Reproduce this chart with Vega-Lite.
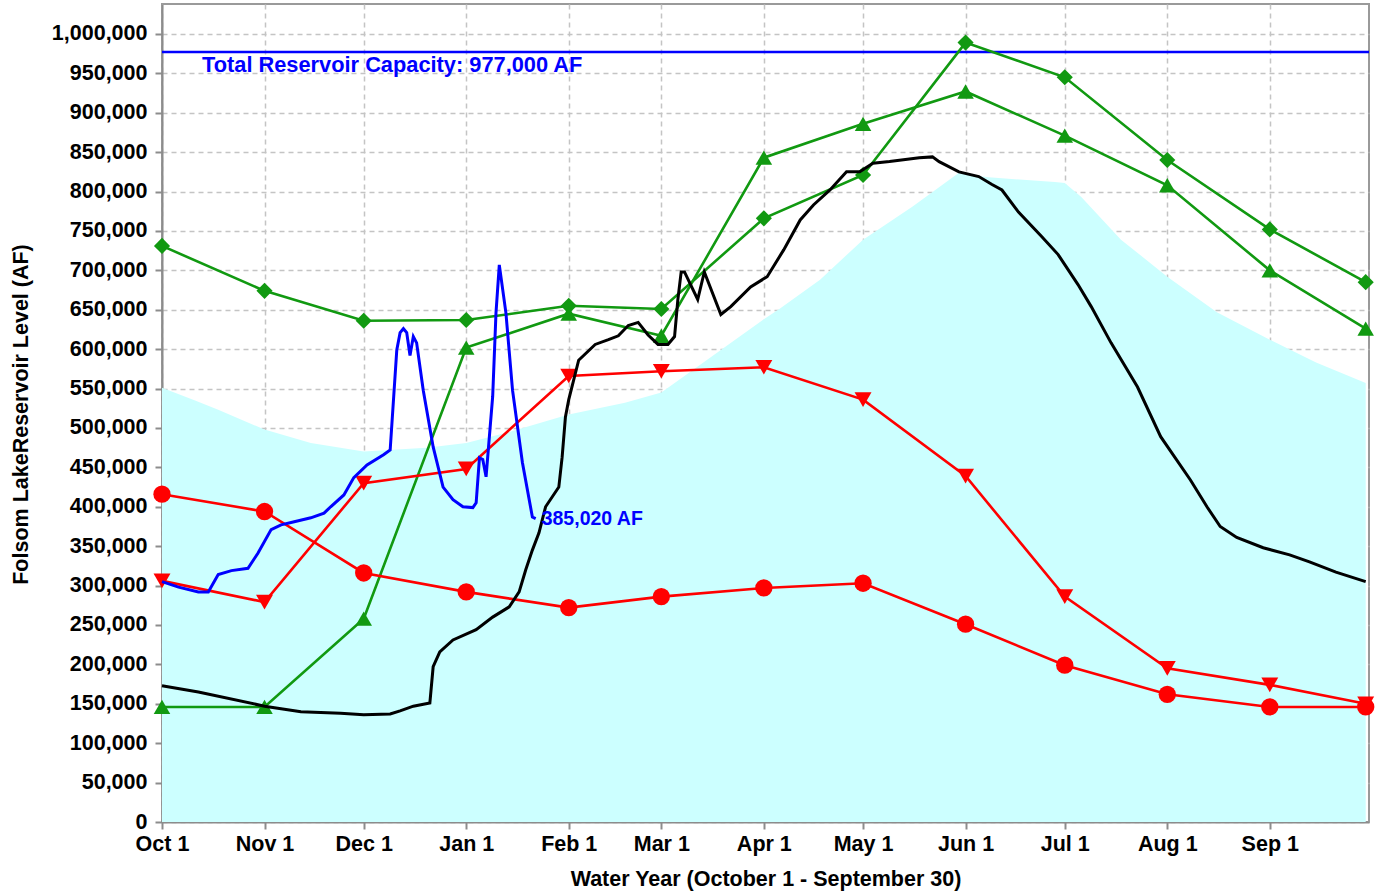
{
  "$schema": "https://vega.github.io/schema/vega-lite/v6.json",
  "width": 1207,
  "height": 818,
  "autosize": {"type": "none"},
  "padding": {"left": 162, "top": 4, "right": 10, "bottom": 71},
  "background": "white",
  "config": {
    "font": "Liberation Sans",
    "view": {"stroke": "#9a9a9a", "strokeWidth": 2},
    "axis": {
      "labelFont": "Liberation Sans",
      "labelFontSize": 21.5,
      "labelFontWeight": "bold",
      "labelColor": "#000000",
      "titleFont": "Liberation Sans",
      "titleFontSize": 21.5,
      "titleFontWeight": "bold",
      "titleColor": "#000000",
      "grid": true,
      "gridColor": "#c4c4c4",
      "gridDash": [5, 4],
      "gridWidth": 1.5,
      "domainColor": "#8c8c8c",
      "domainWidth": 2,
      "tickColor": "#8c8c8c",
      "tickWidth": 2,
      "tickSize": 7,
      "labelFlush": false,
      "labelOverlap": false
    }
  },
  "datasets": {
    "flood": [
      {"day": 0, "value": 551000}, {"day": 10, "value": 535000}, {"day": 17, "value": 523000},
      {"day": 31, "value": 498000}, {"day": 45, "value": 481000}, {"day": 61, "value": 470000},
      {"day": 80, "value": 475000}, {"day": 92, "value": 481000}, {"day": 105, "value": 495000},
      {"day": 123, "value": 517000}, {"day": 140, "value": 532000}, {"day": 151, "value": 545000},
      {"day": 169, "value": 599000}, {"day": 182, "value": 638000}, {"day": 187, "value": 652000},
      {"day": 199, "value": 688000}, {"day": 212, "value": 739000}, {"day": 227, "value": 781000},
      {"day": 241, "value": 824000}, {"day": 243, "value": 822000}, {"day": 250, "value": 818000},
      {"day": 270, "value": 812000}, {"day": 273, "value": 811000}, {"day": 278, "value": 793000},
      {"day": 290, "value": 739000}, {"day": 304, "value": 692000}, {"day": 319, "value": 647000},
      {"day": 335, "value": 612000}, {"day": 349, "value": 583000}, {"day": 364, "value": 557000}
    ],
    "capacity": [
      {"value": 977000, "start_day": 0, "end_day": 365, "label": "Total Reservoir Capacity: 977,000 AF"}
    ],
    "monthly": [
      {"series": "Wet 1", "day": 0, "value": 731000}, {"series": "Wet 1", "day": 31, "value": 674000},
      {"series": "Wet 1", "day": 61, "value": 636000}, {"series": "Wet 1", "day": 92, "value": 637000},
      {"series": "Wet 1", "day": 123, "value": 655000}, {"series": "Wet 1", "day": 151, "value": 651000},
      {"series": "Wet 1", "day": 182, "value": 766000}, {"series": "Wet 1", "day": 212, "value": 821000},
      {"series": "Wet 1", "day": 243, "value": 989000}, {"series": "Wet 1", "day": 273, "value": 945000},
      {"series": "Wet 1", "day": 304, "value": 840000}, {"series": "Wet 1", "day": 335, "value": 752000},
      {"series": "Wet 1", "day": 364, "value": 685000},
      {"series": "Wet 2", "day": 0, "value": 146000}, {"series": "Wet 2", "day": 31, "value": 146000},
      {"series": "Wet 2", "day": 61, "value": 258000}, {"series": "Wet 2", "day": 92, "value": 602000},
      {"series": "Wet 2", "day": 123, "value": 645000}, {"series": "Wet 2", "day": 151, "value": 617000},
      {"series": "Wet 2", "day": 182, "value": 843000}, {"series": "Wet 2", "day": 212, "value": 886000},
      {"series": "Wet 2", "day": 243, "value": 927000}, {"series": "Wet 2", "day": 273, "value": 871000},
      {"series": "Wet 2", "day": 304, "value": 808000}, {"series": "Wet 2", "day": 335, "value": 700000},
      {"series": "Wet 2", "day": 364, "value": 626000},
      {"series": "Dry 1", "day": 0, "value": 306000}, {"series": "Dry 1", "day": 31, "value": 279000},
      {"series": "Dry 1", "day": 61, "value": 430000}, {"series": "Dry 1", "day": 92, "value": 448000},
      {"series": "Dry 1", "day": 123, "value": 566000}, {"series": "Dry 1", "day": 151, "value": 572000},
      {"series": "Dry 1", "day": 182, "value": 577000}, {"series": "Dry 1", "day": 212, "value": 536000},
      {"series": "Dry 1", "day": 243, "value": 439000}, {"series": "Dry 1", "day": 273, "value": 286000},
      {"series": "Dry 1", "day": 304, "value": 195000}, {"series": "Dry 1", "day": 335, "value": 174000},
      {"series": "Dry 1", "day": 364, "value": 150000},
      {"series": "Dry 2", "day": 0, "value": 416000}, {"series": "Dry 2", "day": 31, "value": 394000},
      {"series": "Dry 2", "day": 61, "value": 316000}, {"series": "Dry 2", "day": 92, "value": 292000},
      {"series": "Dry 2", "day": 123, "value": 272000}, {"series": "Dry 2", "day": 151, "value": 286000},
      {"series": "Dry 2", "day": 182, "value": 297000}, {"series": "Dry 2", "day": 212, "value": 303000},
      {"series": "Dry 2", "day": 243, "value": 251000}, {"series": "Dry 2", "day": 273, "value": 199000},
      {"series": "Dry 2", "day": 304, "value": 162000}, {"series": "Dry 2", "day": 335, "value": 146000},
      {"series": "Dry 2", "day": 364, "value": 146000}
    ],
    "daily": [
      {"series": "Prior WY", "day": 0, "value": 173000}, {"series": "Prior WY", "day": 11, "value": 165000},
      {"series": "Prior WY", "day": 31, "value": 147000}, {"series": "Prior WY", "day": 42, "value": 140000},
      {"series": "Prior WY", "day": 54, "value": 138000}, {"series": "Prior WY", "day": 61, "value": 136000},
      {"series": "Prior WY", "day": 69, "value": 137000}, {"series": "Prior WY", "day": 72, "value": 141000},
      {"series": "Prior WY", "day": 76, "value": 147000}, {"series": "Prior WY", "day": 81, "value": 151000},
      {"series": "Prior WY", "day": 82, "value": 197000}, {"series": "Prior WY", "day": 84, "value": 216000},
      {"series": "Prior WY", "day": 88, "value": 231000}, {"series": "Prior WY", "day": 95, "value": 244000},
      {"series": "Prior WY", "day": 100, "value": 260000}, {"series": "Prior WY", "day": 105, "value": 273000},
      {"series": "Prior WY", "day": 108, "value": 292000}, {"series": "Prior WY", "day": 110, "value": 320000},
      {"series": "Prior WY", "day": 112, "value": 345000}, {"series": "Prior WY", "day": 114, "value": 367000},
      {"series": "Prior WY", "day": 116, "value": 400000}, {"series": "Prior WY", "day": 120, "value": 425000},
      {"series": "Prior WY", "day": 121, "value": 463000}, {"series": "Prior WY", "day": 122, "value": 514000},
      {"series": "Prior WY", "day": 123, "value": 536000}, {"series": "Prior WY", "day": 126, "value": 586000},
      {"series": "Prior WY", "day": 131, "value": 606000}, {"series": "Prior WY", "day": 135, "value": 612000},
      {"series": "Prior WY", "day": 138, "value": 617000}, {"series": "Prior WY", "day": 141, "value": 630000},
      {"series": "Prior WY", "day": 144, "value": 634000}, {"series": "Prior WY", "day": 147, "value": 618000},
      {"series": "Prior WY", "day": 150, "value": 606000}, {"series": "Prior WY", "day": 153, "value": 606000},
      {"series": "Prior WY", "day": 155, "value": 616000}, {"series": "Prior WY", "day": 156, "value": 663000},
      {"series": "Prior WY", "day": 157, "value": 698000}, {"series": "Prior WY", "day": 158, "value": 698000},
      {"series": "Prior WY", "day": 162, "value": 663000}, {"series": "Prior WY", "day": 164, "value": 698000},
      {"series": "Prior WY", "day": 169, "value": 644000}, {"series": "Prior WY", "day": 172, "value": 654000},
      {"series": "Prior WY", "day": 178, "value": 679000}, {"series": "Prior WY", "day": 183, "value": 692000},
      {"series": "Prior WY", "day": 188, "value": 726000}, {"series": "Prior WY", "day": 193, "value": 764000},
      {"series": "Prior WY", "day": 197, "value": 783000}, {"series": "Prior WY", "day": 202, "value": 802000},
      {"series": "Prior WY", "day": 207, "value": 825000}, {"series": "Prior WY", "day": 211, "value": 825000},
      {"series": "Prior WY", "day": 215, "value": 836000}, {"series": "Prior WY", "day": 220, "value": 838000},
      {"series": "Prior WY", "day": 229, "value": 843000}, {"series": "Prior WY", "day": 233, "value": 844000},
      {"series": "Prior WY", "day": 235, "value": 838000}, {"series": "Prior WY", "day": 241, "value": 825000},
      {"series": "Prior WY", "day": 247, "value": 819000}, {"series": "Prior WY", "day": 251, "value": 809000},
      {"series": "Prior WY", "day": 254, "value": 802000}, {"series": "Prior WY", "day": 259, "value": 774000},
      {"series": "Prior WY", "day": 266, "value": 743000}, {"series": "Prior WY", "day": 271, "value": 720000},
      {"series": "Prior WY", "day": 277, "value": 682000}, {"series": "Prior WY", "day": 281, "value": 654000},
      {"series": "Prior WY", "day": 287, "value": 608000}, {"series": "Prior WY", "day": 295, "value": 552000},
      {"series": "Prior WY", "day": 302, "value": 489000}, {"series": "Prior WY", "day": 311, "value": 434000},
      {"series": "Prior WY", "day": 316, "value": 400000}, {"series": "Prior WY", "day": 320, "value": 375000},
      {"series": "Prior WY", "day": 325, "value": 361000}, {"series": "Prior WY", "day": 333, "value": 348000},
      {"series": "Prior WY", "day": 341, "value": 339000}, {"series": "Prior WY", "day": 347, "value": 330000},
      {"series": "Prior WY", "day": 355, "value": 317000}, {"series": "Prior WY", "day": 364, "value": 305000},
      {"series": "Current WY", "day": 0, "value": 305000}, {"series": "Current WY", "day": 5, "value": 298000},
      {"series": "Current WY", "day": 11, "value": 292000}, {"series": "Current WY", "day": 14, "value": 292000},
      {"series": "Current WY", "day": 17, "value": 314000}, {"series": "Current WY", "day": 21, "value": 319000},
      {"series": "Current WY", "day": 26, "value": 322000}, {"series": "Current WY", "day": 29, "value": 341000},
      {"series": "Current WY", "day": 33, "value": 371000}, {"series": "Current WY", "day": 36, "value": 377000},
      {"series": "Current WY", "day": 40, "value": 381000}, {"series": "Current WY", "day": 45, "value": 386000},
      {"series": "Current WY", "day": 49, "value": 392000}, {"series": "Current WY", "day": 51, "value": 400000},
      {"series": "Current WY", "day": 55, "value": 415000}, {"series": "Current WY", "day": 58, "value": 437000},
      {"series": "Current WY", "day": 62, "value": 453000}, {"series": "Current WY", "day": 67, "value": 466000},
      {"series": "Current WY", "day": 69, "value": 472000}, {"series": "Current WY", "day": 71, "value": 599000},
      {"series": "Current WY", "day": 72, "value": 621000}, {"series": "Current WY", "day": 73, "value": 626000},
      {"series": "Current WY", "day": 74, "value": 621000}, {"series": "Current WY", "day": 75, "value": 592000},
      {"series": "Current WY", "day": 76, "value": 616000}, {"series": "Current WY", "day": 77, "value": 608000},
      {"series": "Current WY", "day": 79, "value": 548000}, {"series": "Current WY", "day": 82, "value": 476000},
      {"series": "Current WY", "day": 85, "value": 425000}, {"series": "Current WY", "day": 88, "value": 409000},
      {"series": "Current WY", "day": 91, "value": 400000}, {"series": "Current WY", "day": 94, "value": 399000},
      {"series": "Current WY", "day": 95, "value": 405000}, {"series": "Current WY", "day": 96, "value": 462000},
      {"series": "Current WY", "day": 97, "value": 460000}, {"series": "Current WY", "day": 98, "value": 438000},
      {"series": "Current WY", "day": 100, "value": 540000}, {"series": "Current WY", "day": 101, "value": 646000},
      {"series": "Current WY", "day": 102, "value": 707000}, {"series": "Current WY", "day": 104, "value": 646000},
      {"series": "Current WY", "day": 106, "value": 548000}, {"series": "Current WY", "day": 109, "value": 456000},
      {"series": "Current WY", "day": 112, "value": 387000}, {"series": "Current WY", "day": 113, "value": 385020}
    ],
    "lastValue": [
      {"day": 113, "value": 385020, "label": "385,020 AF"}
    ]
  },
  "encoding": {
    "x": {
      "field": "day",
      "type": "quantitative",
      "scale": {"domain": [0, 365], "nice": false, "zero": false},
      "axis": {
        "title": "Water Year (October 1 - September 30)",
        "values": [0, 31, 61, 92, 123, 151, 182, 212, 243, 273, 304, 335],
        "labelExpr": "['Oct 1','Nov 1','Dec 1','Jan 1','Feb 1','Mar 1','Apr 1','May 1','Jun 1','Jul 1','Aug 1','Sep 1'][indexof([0,31,61,92,123,151,182,212,243,273,304,335], datum.value)]",
        "labelPadding": 4,
        "titleY": 46
      }
    },
    "y": {
      "field": "value",
      "type": "quantitative",
      "scale": {"domain": [0, 1038000], "nice": false, "zero": true},
      "axis": {
        "title": "Folsom LakeReservoir Level (AF)",
        "values": [0, 50000, 100000, 150000, 200000, 250000, 300000, 350000, 400000, 450000, 500000, 550000, 600000, 650000, 700000, 750000, 800000, 850000, 900000, 950000, 1000000],
        "format": ",d",
        "labelPadding": 8,
        "titleX": -130,
        "titleY": 410
      }
    }
  },
  "layer": [
    {
      "data": {"name": "flood"},
      "mark": {"type": "area", "color": "#ccffff", "opacity": 1, "interpolate": "linear"}
    },
    {
      "data": {"name": "capacity"},
      "mark": {"type": "rule", "color": "#0000ff", "strokeWidth": 2.5},
      "encoding": {"x": {"field": "start_day", "type": "quantitative"}, "x2": {"field": "end_day"}}
    },
    {
      "data": {"name": "capacity"},
      "mark": {"type": "text", "color": "#0000ff", "font": "Liberation Sans", "fontSize": 21.8, "fontWeight": "bold", "align": "left", "baseline": "middle", "dx": 40, "dy": 13},
      "encoding": {"x": {"field": "start_day", "type": "quantitative"}, "text": {"field": "label", "type": "nominal"}}
    },
    {
      "data": {"name": "monthly"},
      "mark": {"type": "line", "strokeWidth": 2.6},
      "encoding": {
        "color": {"field": "series", "type": "nominal", "legend": null,
          "scale": {"domain": ["Wet 1", "Wet 2", "Dry 1", "Dry 2", "Current WY", "Prior WY"], "range": ["#119911", "#119911", "#ff0000", "#ff0000", "#0000ff", "#000000"]}},
        "detail": {"field": "series"}
      }
    },
    {
      "data": {"name": "monthly"},
      "mark": {"type": "point", "filled": true, "opacity": 1, "strokeWidth": 0},
      "encoding": {
        "color": {"field": "series", "type": "nominal", "legend": null,
          "scale": {"domain": ["Wet 1", "Wet 2", "Dry 1", "Dry 2", "Current WY", "Prior WY"], "range": ["#119911", "#119911", "#ff0000", "#ff0000", "#0000ff", "#000000"]}},
        "shape": {"field": "series", "type": "nominal", "legend": null,
          "scale": {"domain": ["Wet 1", "Wet 2", "Dry 1", "Dry 2"], "range": ["diamond", "triangle-up", "triangle-down", "circle"]}},
        "size": {"field": "series", "type": "nominal", "legend": null,
          "scale": {"domain": ["Wet 1", "Wet 2", "Dry 1", "Dry 2"], "range": [260, 300, 300, 210]}}
      }
    },
    {
      "data": {"name": "daily"},
      "mark": {"type": "line", "strokeWidth": 3},
      "encoding": {
        "color": {"field": "series", "type": "nominal", "legend": null,
          "scale": {"domain": ["Wet 1", "Wet 2", "Dry 1", "Dry 2", "Current WY", "Prior WY"], "range": ["#119911", "#119911", "#ff0000", "#ff0000", "#0000ff", "#000000"]}},
        "detail": {"field": "series"}
      }
    },
    {
      "data": {"name": "lastValue"},
      "mark": {"type": "text", "color": "#0000ff", "font": "Liberation Sans", "fontSize": 19.5, "fontWeight": "bold", "align": "left", "baseline": "middle", "dx": 6},
      "encoding": {"text": {"field": "label"}}
    }
  ]
}
